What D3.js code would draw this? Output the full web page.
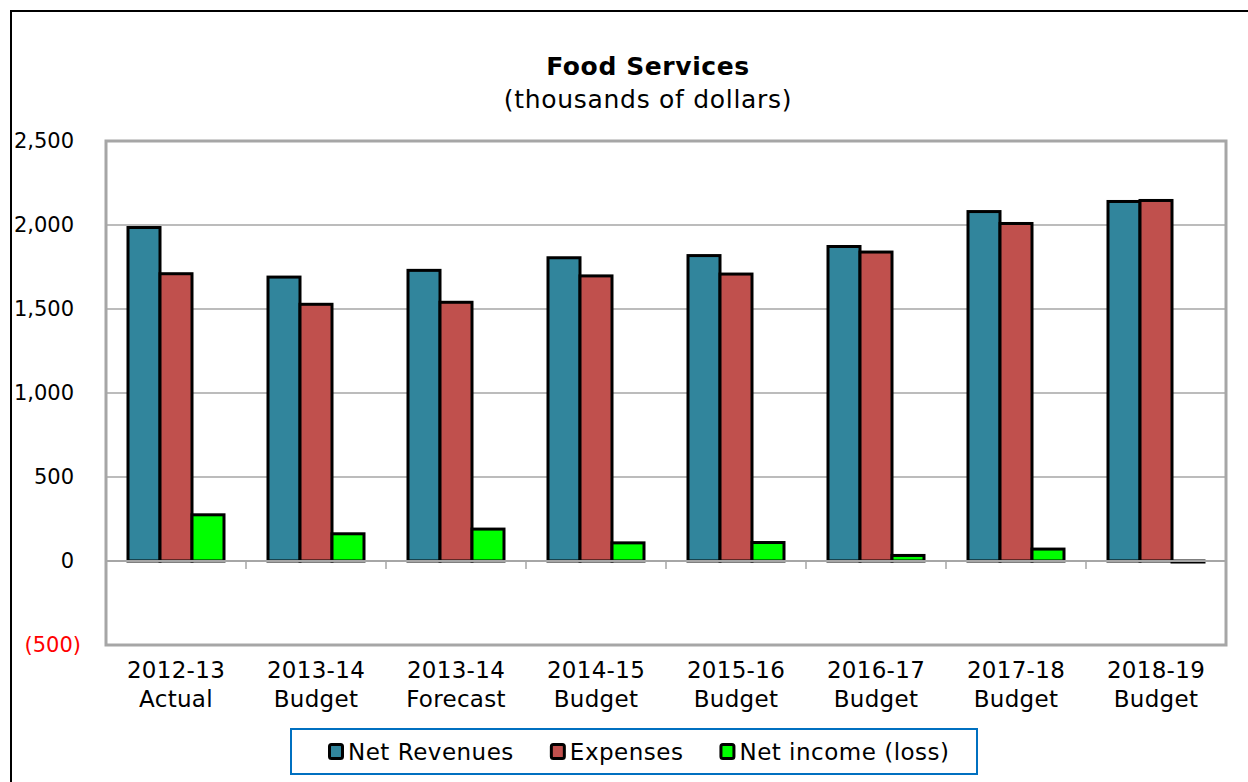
<!DOCTYPE html>
<html>
<head>
<meta charset="utf-8">
<script src="https://cdn.jsdelivr.net/npm/d3@7"></script>
<style>
  body { margin: 0; background: #fff; }
  svg { display: block; font-family: "DejaVu Sans", Verdana, sans-serif; }
</style>
</head>
<body>
<div id="chart"></div>
<script>
// chart data (thousands of dollars)
const years = ["2012-13", "2013-14", "2013-14", "2014-15", "2015-16", "2016-17", "2017-18", "2018-19"];
const kinds = ["Actual", "Budget", "Forecast", "Budget", "Budget", "Budget", "Budget", "Budget"];
const seriesNames = ["Net Revenues", "Expenses", "Net income (loss)"];
const netRevenues = [1985, 1690, 1730, 1805, 1818, 1872, 2080, 2140];
const expenses = [1710, 1528, 1540, 1697, 1708, 1839, 2009, 2146];
const netIncome = [275, 162, 190, 108, 110, 33, 71, -6];
const yTicks = [-500, 0, 500, 1000, 1500, 2000, 2500];
const colors = ["#31859c", "#c0504d", "#00ff00"];

const W = 1248, H = 782;
const margin = {top: 141, right: 22, bottom: 137, left: 106};
const plotW = W - margin.left - margin.right;
const plotH = H - margin.top - margin.bottom;

const svg = d3.select('#chart').append('svg')
  .attr("width", W)
  .attr("height", H);

// outer frame (only top and left edges are visible in the picture)
svg.append('rect')
  .attr("x", 11).attr("y", 11)
  .attr("width", W + 20).attr("height", H + 20)
  .attr("fill", "none")
  .attr("stroke", "#000")
  .attr("stroke-width", 2);

// title
svg.append('text')
  .attr("x", 648).attr("y", 75)
  .attr("text-anchor", "middle")
  .attr("font-size", 25)
  .attr("letter-spacing", 0.6)
  .attr("font-weight", "bold")
  .text("Food Services");
svg.append('text')
  .attr("x", 648).attr("y", 108)
  .attr("text-anchor", "middle")
  .attr("font-size", 25)
  .attr("letter-spacing", 0.7)
  .text("(thousands of dollars)");

const g = svg.append('g')
  .attr("transform", `translate(${margin.left},${margin.top})`);

const y = d3.scaleLinear().domain([-500, 2500]).range([plotH, 0]);
const x0 = d3.scaleBand().domain(d3.range(years.length)).range([0, plotW]);
const x1 = d3.scaleBand().domain(seriesNames).range([0, x0.bandwidth()])
  .paddingInner(0).paddingOuter(0.6875);

// gridlines
g.append('g')
  .selectAll('line')
  .data(yTicks.filter(d => d > -500 && d < 2500 && d !== 0))
  .join('line')
    .attr("x1", 0).attr("x2", plotW)
    .attr("y1", d => y(d)).attr("y2", d => y(d))
    .attr("stroke", "#a6a6a6")
    .attr("stroke-width", 1.6);

// y axis labels, Excel style: positives padded for the ")" of negatives
const yAxis = g.append('g')
  .call(d3.axisLeft(y).tickValues(yTicks).tickSize(0).tickPadding(25)
    .tickFormat(d => d < 0 ? `(${d3.format(",")(-d)})` : d3.format(",")(d)));
yAxis.select('.domain').remove();
yAxis.selectAll('text')
  .attr("font-size", 21)
  .attr("font-family", "DejaVu Sans, Verdana, sans-serif")
  .attr("fill", d => d < 0 ? "#ff0000" : "#000")
  .attr("dx", d => d < 0 ? 0 : -7);

// bars
const rows = years.map((yr, i) => [netRevenues[i], expenses[i], netIncome[i]]);
g.append('g')
  .selectAll('g')
  .data(rows)
  .join('g')
    .attr("transform", (d, i) => `translate(${x0(i)},0)`)
  .selectAll('rect')
  .data(d => d.map((v, k) => ({key: seriesNames[k], value: v, k: k})))
  .join('rect')
    .attr("x", d => x1(d.key))
    .attr("width", x1.bandwidth())
    .attr("y", d => y(Math.max(0, d.value)))
    .attr("height", d => Math.abs(y(d.value) - y(0)))
    .attr("fill", d => colors[d.k])
    .attr("stroke", "#000")
    .attr("stroke-width", 3);

// zero line with category ticks
const zeroAxis = g.append('g')
  .attr("transform", `translate(0,${y(0)})`);
zeroAxis.append('line')
  .attr("x1", 0).attr("x2", plotW)
  .attr("stroke", "#a6a6a6")
  .attr("stroke-width", 2);
zeroAxis.selectAll('line.tick')
  .data(d3.range(1, years.length + 1))
  .join('line')
    .attr("class", "tick")
    .attr("x1", i => x0.step() * i).attr("x2", i => x0.step() * i)
    .attr("y1", 0).attr("y2", 8)
    .attr("stroke", "#a6a6a6")
    .attr("stroke-width", 1.5);

// plot border
g.append('rect')
  .attr("width", plotW).attr("height", plotH)
  .attr("fill", "none")
  .attr("stroke", "#a6a6a6")
  .attr("stroke-width", 3);

// category labels
const xl = g.append('g')
  .selectAll('text')
  .data(years)
  .join('text')
    .attr("x", (d, i) => x0(i) + x0.bandwidth() / 2)
    .attr("y", plotH + 33)
    .attr("text-anchor", "middle")
    .attr("font-size", 23)
    .attr("letter-spacing", 0.3);
xl.append('tspan').text(d => d);
xl.append('tspan')
  .attr("x", (d, i) => x0(i) + x0.bandwidth() / 2)
  .attr("dy", 29)
  .text((d, i) => kinds[i]);

// legend
const legend = svg.append('g');
legend.append('rect')
  .attr("x", 291).attr("y", 729)
  .attr("width", 686).attr("height", 45)
  .attr("fill", "#fff")
  .attr("stroke", "#0070c0")
  .attr("stroke-width", 2);

let lx = 328;
seriesNames.forEach((name, k) => {
  legend.append('rect')
    .attr("x", lx + 1.5).attr("y", 744.5)
    .attr("width", 13).attr("height", 14)
    .attr("rx", 2)
    .attr("fill", colors[k])
    .attr("stroke", "#000")
    .attr("stroke-width", 3);
  const t = legend.append('text')
    .attr("x", lx + 20).attr("y", 760)
    .attr("font-size", 23)
    .attr("letter-spacing", 0.5)
    .text(name);
  lx = lx + 20 + t.node().getComputedTextLength() + 36;
});
</script>
</body>
</html>
